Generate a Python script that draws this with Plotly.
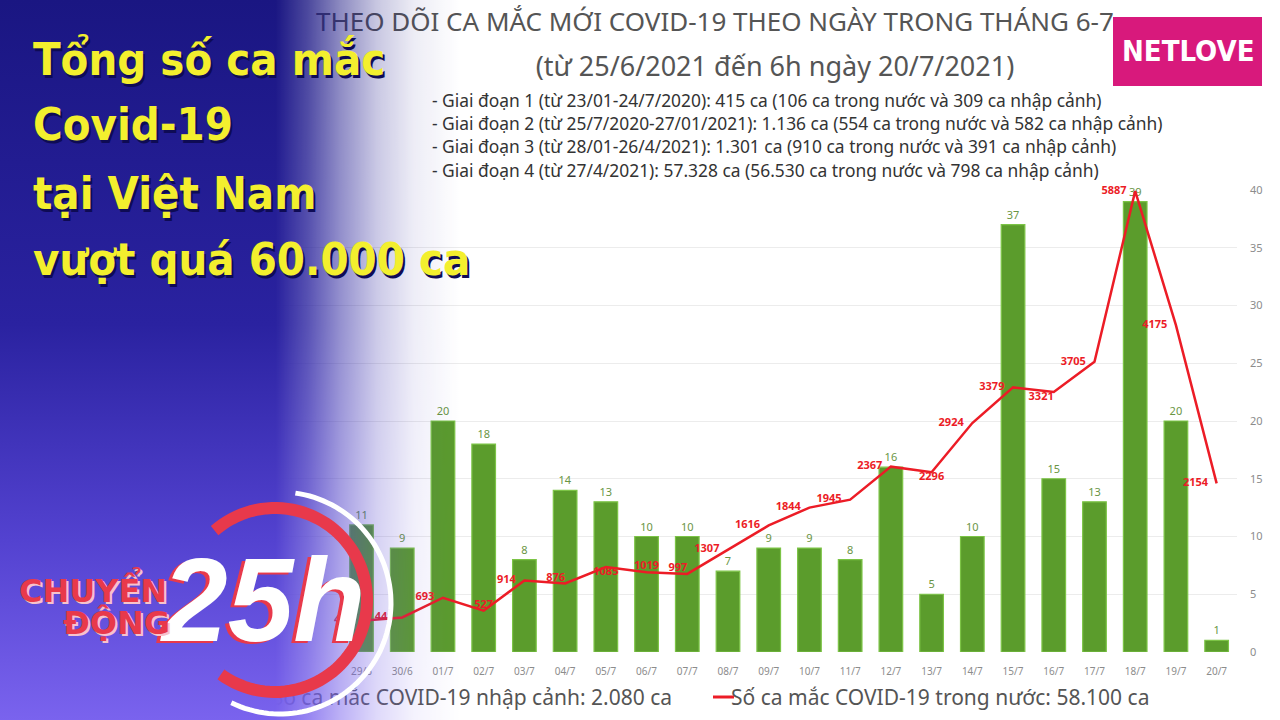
import base64
import numpy as np
import plotly.graph_objects as go

# ---- data
days = ["29/6", "30/6", "01/7", "02/7", "03/7", "04/7", "05/7", "06/7", "07/7", "08/7", "09/7",
        "10/7", "11/7", "12/7", "13/7", "14/7", "15/7", "16/7", "17/7", "18/7", "19/7", "20/7"]
imported = [11, 9, 20, 18, 8, 14, 13, 10, 10, 7, 9, 9, 8, 16, 5, 10, 37, 15, 13, 39, 20, 1]
domestic = [400, 441, 693, 527, 914, 876, 1085, 1019, 997, 1307, 1616, 1844, 1945, 2367,
            2296, 2924, 3379, 3321, 3705, 5887, 4175, 2154]
domestic_labelpos = ["middle left", "middle left", "middle left", "top center", "middle left",
                     "top left", "bottom center", "top center", "top left", "middle left",
                     "middle left", "middle left", "middle left", "middle left", "bottom center",
                     "middle left", "middle left", "bottom left", "middle left", "middle left",
                     "middle left", "middle left"]
bar_ticks = [0, 5, 10, 15, 20, 25, 30, 35, 40]

chart_title = "THEO DÕI CA MẮC MỚI COVID-19 THEO NGÀY TRONG THÁNG 6-7"
chart_subtitle = "(từ 25/6/2021 đến 6h ngày 20/7/2021)"
phases = [
    "- Giai đoạn 1 (từ 23/01-24/7/2020): 415 ca (106 ca trong nước và 309 ca nhập cảnh)",
    "- Giai đoạn 2 (từ 25/7/2020-27/01/2021): 1.136 ca (554 ca trong nước và 582 ca nhập cảnh)",
    "- Giai đoạn 3 (từ 28/01-26/4/2021): 1.301 ca (910 ca trong nước và 391 ca nhập cảnh)",
    "- Giai đoạn 4 (từ 27/4/2021): 57.328 ca (56.530 ca trong nước và 798 ca nhập cảnh)",
]
legend_imported = "Số ca mắc COVID-19 nhập cảnh: 2.080 ca"
legend_domestic = "Số ca mắc COVID-19 trong nước: 58.100 ca"
headline = ["Tổng số ca mắc", "Covid-19", "tại Việt Nam", "vượt quá 60.000 ca"]

W, H = 1280, 720
GREEN = "#5b9c2c"
RED = "#ec1c26"
TXT = "#555555"
BODY = "Noto Sans, Open Sans, sans-serif"
NARROW = "DejaVu Sans Condensed, DejaVu Sans, sans-serif"

# labels set to the left of the point get a little extra gap
line_labels = [f"{v}\u00a0\u00a0\u00a0" if p == "middle left" else str(v)
               for v, p in zip(domestic, domestic_labelpos)]

fig = go.Figure()

fig.add_trace(go.Bar(
    x=days, y=imported, width=0.58,
    marker=dict(color=GREEN, line=dict(color="#7cc446", width=1.2)),
    text=imported, textposition="outside", cliponaxis=False,
    textfont=dict(family=BODY, size=11, color="#6a9544"),
    hoverinfo="skip", showlegend=False,
))
fig.add_trace(go.Scatter(
    x=days, y=domestic, yaxis="y2", mode="lines+text",
    line=dict(color=RED, width=2.5),
    text=line_labels, textposition=domestic_labelpos, cliponaxis=False,
    textfont=dict(family=BODY, size=11, color=RED, weight=700),
    hoverinfo="skip", showlegend=False,
))

# page texts drawn on a pixel axis (below the left overlay)
page = dict(xaxis="x3", yaxis="y3", mode="text", hoverinfo="skip", showlegend=False, cliponaxis=False)
fig.add_trace(go.Scatter(x=[316], y=[24], text=[chart_title], textposition="middle right",
                         textfont=dict(family=BODY, size=26, color=TXT), **page))
fig.add_trace(go.Scatter(x=[775], y=[69], text=[chart_subtitle], textposition="middle center",
                         textfont=dict(family=BODY, size=27, color=TXT), **page))
fig.add_trace(go.Scatter(x=[432] * len(phases), y=[103, 126, 149, 173], text=phases,
                         textposition="middle right",
                         textfont=dict(family=BODY, size=17.4, color="#333333"), **page))
fig.add_trace(go.Scatter(x=[672], y=[700], text=[legend_imported], textposition="middle left",
                         textfont=dict(family=BODY, size=21, color=TXT), **page))
fig.add_trace(go.Scatter(x=[731], y=[700], text=[legend_domestic], textposition="middle right",
                         textfont=dict(family=BODY, size=21, color=TXT), **page))

# left blue/purple overlay as a gradient image
svg = """<svg xmlns='http://www.w3.org/2000/svg' width='460' height='720' viewBox='0 0 460 720'>
<defs>
<linearGradient id='v' x1='0' y1='0' x2='0' y2='1'>
<stop offset='0' stop-color='#1a1682'/><stop offset='0.45' stop-color='#2a22a0'/>
<stop offset='0.75' stop-color='#5342d0'/><stop offset='1' stop-color='#7a63ee'/></linearGradient>
<linearGradient id='h' x1='0' y1='0' x2='1' y2='0'>
<stop offset='0.6' stop-color='#fff' stop-opacity='1'/>
<stop offset='0.67' stop-color='#fff' stop-opacity='0.78'/>
<stop offset='0.74' stop-color='#fff' stop-opacity='0.5'/>
<stop offset='0.82' stop-color='#fff' stop-opacity='0.24'/>
<stop offset='0.9' stop-color='#fff' stop-opacity='0.08'/>
<stop offset='1' stop-color='#fff' stop-opacity='0'/></linearGradient>
<mask id='m' maskUnits='userSpaceOnUse' x='0' y='0' width='460' height='720'>
<rect width='460' height='720' fill='url(#h)'/></mask>
</defs>
<rect width='460' height='720' fill='url(#v)' mask='url(#m)'/>
</svg>"""
overlay_src = "data:image/svg+xml;base64," + base64.b64encode(svg.encode()).decode()


def arc(cx, cy, r, a0, a1, n=80):
    t = np.radians(np.linspace(a0, a1, n))
    pts = zip(cx + r * np.cos(t), cy - r * np.sin(t))
    return "M " + " L ".join(f"{x:.1f},{y:.1f}" for x, y in pts)


shapes = [
    # legend samples
    dict(type="rect", xref="x3", yref="y3", x0=236, x1=248, y0=691, y1=703,
         fillcolor=GREEN, line_width=0, layer="below"),
    dict(type="line", xref="x3", yref="y3", x0=713, x1=734, y0=697, y1=697,
         line=dict(color=RED, width=3), layer="below"),
    # programme logo rings
    dict(type="path", xref="x3", yref="y3", path=arc(280, 603, 111, 82, -116),
         line=dict(color="white", width=5), layer="above"),
    dict(type="path", xref="x3", yref="y3", path=arc(275, 600, 92, 131, -126),
         line=dict(color="#e8394b", width=12), layer="above"),
    # NETLOVE badge
    dict(type="rect", xref="x3", yref="y3", x0=1113, x1=1262, y0=17, y1=86,
         fillcolor="#d8197c", line_width=0, layer="above"),
]

annotations = []
for txt, yy in zip(headline, [59, 124, 193, 259]):
    annotations.append(dict(
        text=txt, xref="x3", yref="y3", x=31, y=yy, xanchor="left", yanchor="middle",
        showarrow=False,
        font=dict(family=NARROW, size=45, color="#f3ef2e", weight=700,
                  shadow="2px 3px 0px #0e0b55"),
    ))
annotations += [
    dict(text="NETLOVE", xref="x3", yref="y3", x=1188, y=51, showarrow=False,
         font=dict(family=NARROW, size=29, color="white", weight=700)),
    dict(text="25<i>h</i>", xref="x3", yref="y3", x=262, y=600, showarrow=False,
         font=dict(family="Liberation Sans, Arial, sans-serif", size=118, color="white",
                   weight=700, style="italic", shadow="-4px 2px 0px #e8394b")),
    dict(text="CHUYỂN", xref="x3", yref="y3", x=93, y=588, showarrow=False,
         font=dict(family="DejaVu Sans, sans-serif", size=32, color="#e8394b", weight=700,
                   shadow="2px 2px 0px #f6c3cb")),
    dict(text="ĐỘNG", xref="x3", yref="y3", x=116, y=623, showarrow=False,
         font=dict(family="DejaVu Sans, sans-serif", size=32, color="#e8394b", weight=700,
                   shadow="2px 2px 0px #f6c3cb")),
]

fig.update_layout(
    width=W, height=H, autosize=False,
    margin=dict(l=0, r=0, t=0, b=0, pad=0),
    paper_bgcolor="white", plot_bgcolor="rgba(0,0,0,0)",
    xaxis=dict(domain=[219 / W, 1237 / W], range=[-3.5, len(days) - 0.5], type="category",
               tickfont=dict(family=BODY, size=10, color="#8c8c8c"), ticks="",
               ticklabelstandoff=12, automargin=False,
               showgrid=False, zeroline=False, showline=False, fixedrange=True),
    yaxis=dict(domain=[(H - 652) / H, (H - 190) / H], range=[0, 40], side="right",
               tickvals=bar_ticks, tickfont=dict(family=BODY, size=11, color="#8c8c8c"),
               ticklabelstandoff=12, gridcolor="#ececec", gridwidth=1, automargin=False,
               zeroline=False, showline=False, fixedrange=True),
    yaxis2=dict(overlaying="y", range=[0, 5900], visible=False, automargin=False,
                fixedrange=True),
    xaxis3=dict(domain=[0, 1], range=[0, W], visible=False, anchor="y3", automargin=False,
                fixedrange=True),
    yaxis3=dict(domain=[0, 1], range=[H, 0], visible=False, anchor="x3", automargin=False,
                fixedrange=True),
    images=[dict(source=overlay_src, xref="paper", yref="paper", x=0, y=1,
                 sizex=460 / W, sizey=1, xanchor="left", yanchor="top",
                 sizing="stretch", layer="above")],
    shapes=shapes,
    annotations=annotations,
)

# pin the graph to the window's top-left corner
pin = ("document.documentElement.style.overflow='hidden';"
       "document.body.style.margin='0';"
       "var d=document.getElementById('{plot_id}');"
       "d.style.position='fixed';d.style.left='0px';d.style.top='0px';")
fig.write_html("out.html", config={"displayModeBar": False, "staticPlot": True}, post_script=pin)
